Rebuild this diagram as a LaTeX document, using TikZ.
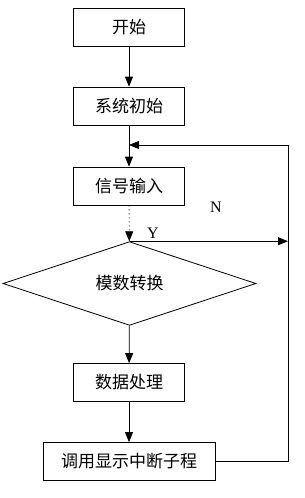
\documentclass[tikz,border=0pt]{standalone}
\usepackage{fontspec}
\setmainfont{Liberation Serif}
\newfontfamily\cjk{Noto Sans CJK SC}
\usetikzlibrary{arrows.meta}
\usetikzlibrary{shapes.geometric, positioning}

\tikzset{
  flowbox/.style={draw, rectangle, inner sep=0pt, minimum width=111pt, minimum height=38pt, font=\cjk\fontsize{17}{19}\selectfont},
  decision/.style={draw, diamond, inner sep=0pt, minimum width=253pt, minimum height=77pt, font=\cjk\fontsize{17}{19}\selectfont},
  flowlabel/.style={font=\fontsize{16}{18}\selectfont}
}

\begin{document}
\begin{tikzpicture}[x=1pt,y=-1pt,line width=0.8pt,>={Triangle[length=10pt,width=8pt]}]
\useasboundingbox (0,0) rectangle (305,498);
\node[flowbox] (start) at (129,27.5) {开始};
\node[flowbox] (init) at (129,106) {系统初始};
\node[flowbox] (input) at (129,186) {信号输入};
\node[decision] (adc) at (129.5,283.5) {模数转换};
\node[flowbox] (proc) at (129,382.5) {数据处理};
\node[flowbox,minimum width=172pt] (disp) at (129,461.5) {调用显示中断子程};
\coordinate (corner) at (288,145);
\coordinate (join) at (129,145);

\draw[->] (start) -- (init);
\draw[->] (init) -- (input);
\draw[->,dash pattern=on 1pt off 3pt] (input) -- (adc);
\draw[->] (adc.north) -- (adc.north -| corner);
\draw[->] (adc) -- (proc);
\draw[->] (proc) -- (disp);
\draw[->] (disp.east) -| (corner) -- (join);

\node[flowlabel] (yes) at (153,233) {Y};
\node[flowlabel] (no) at (216,207) {N};
\end{tikzpicture}
\end{document}
